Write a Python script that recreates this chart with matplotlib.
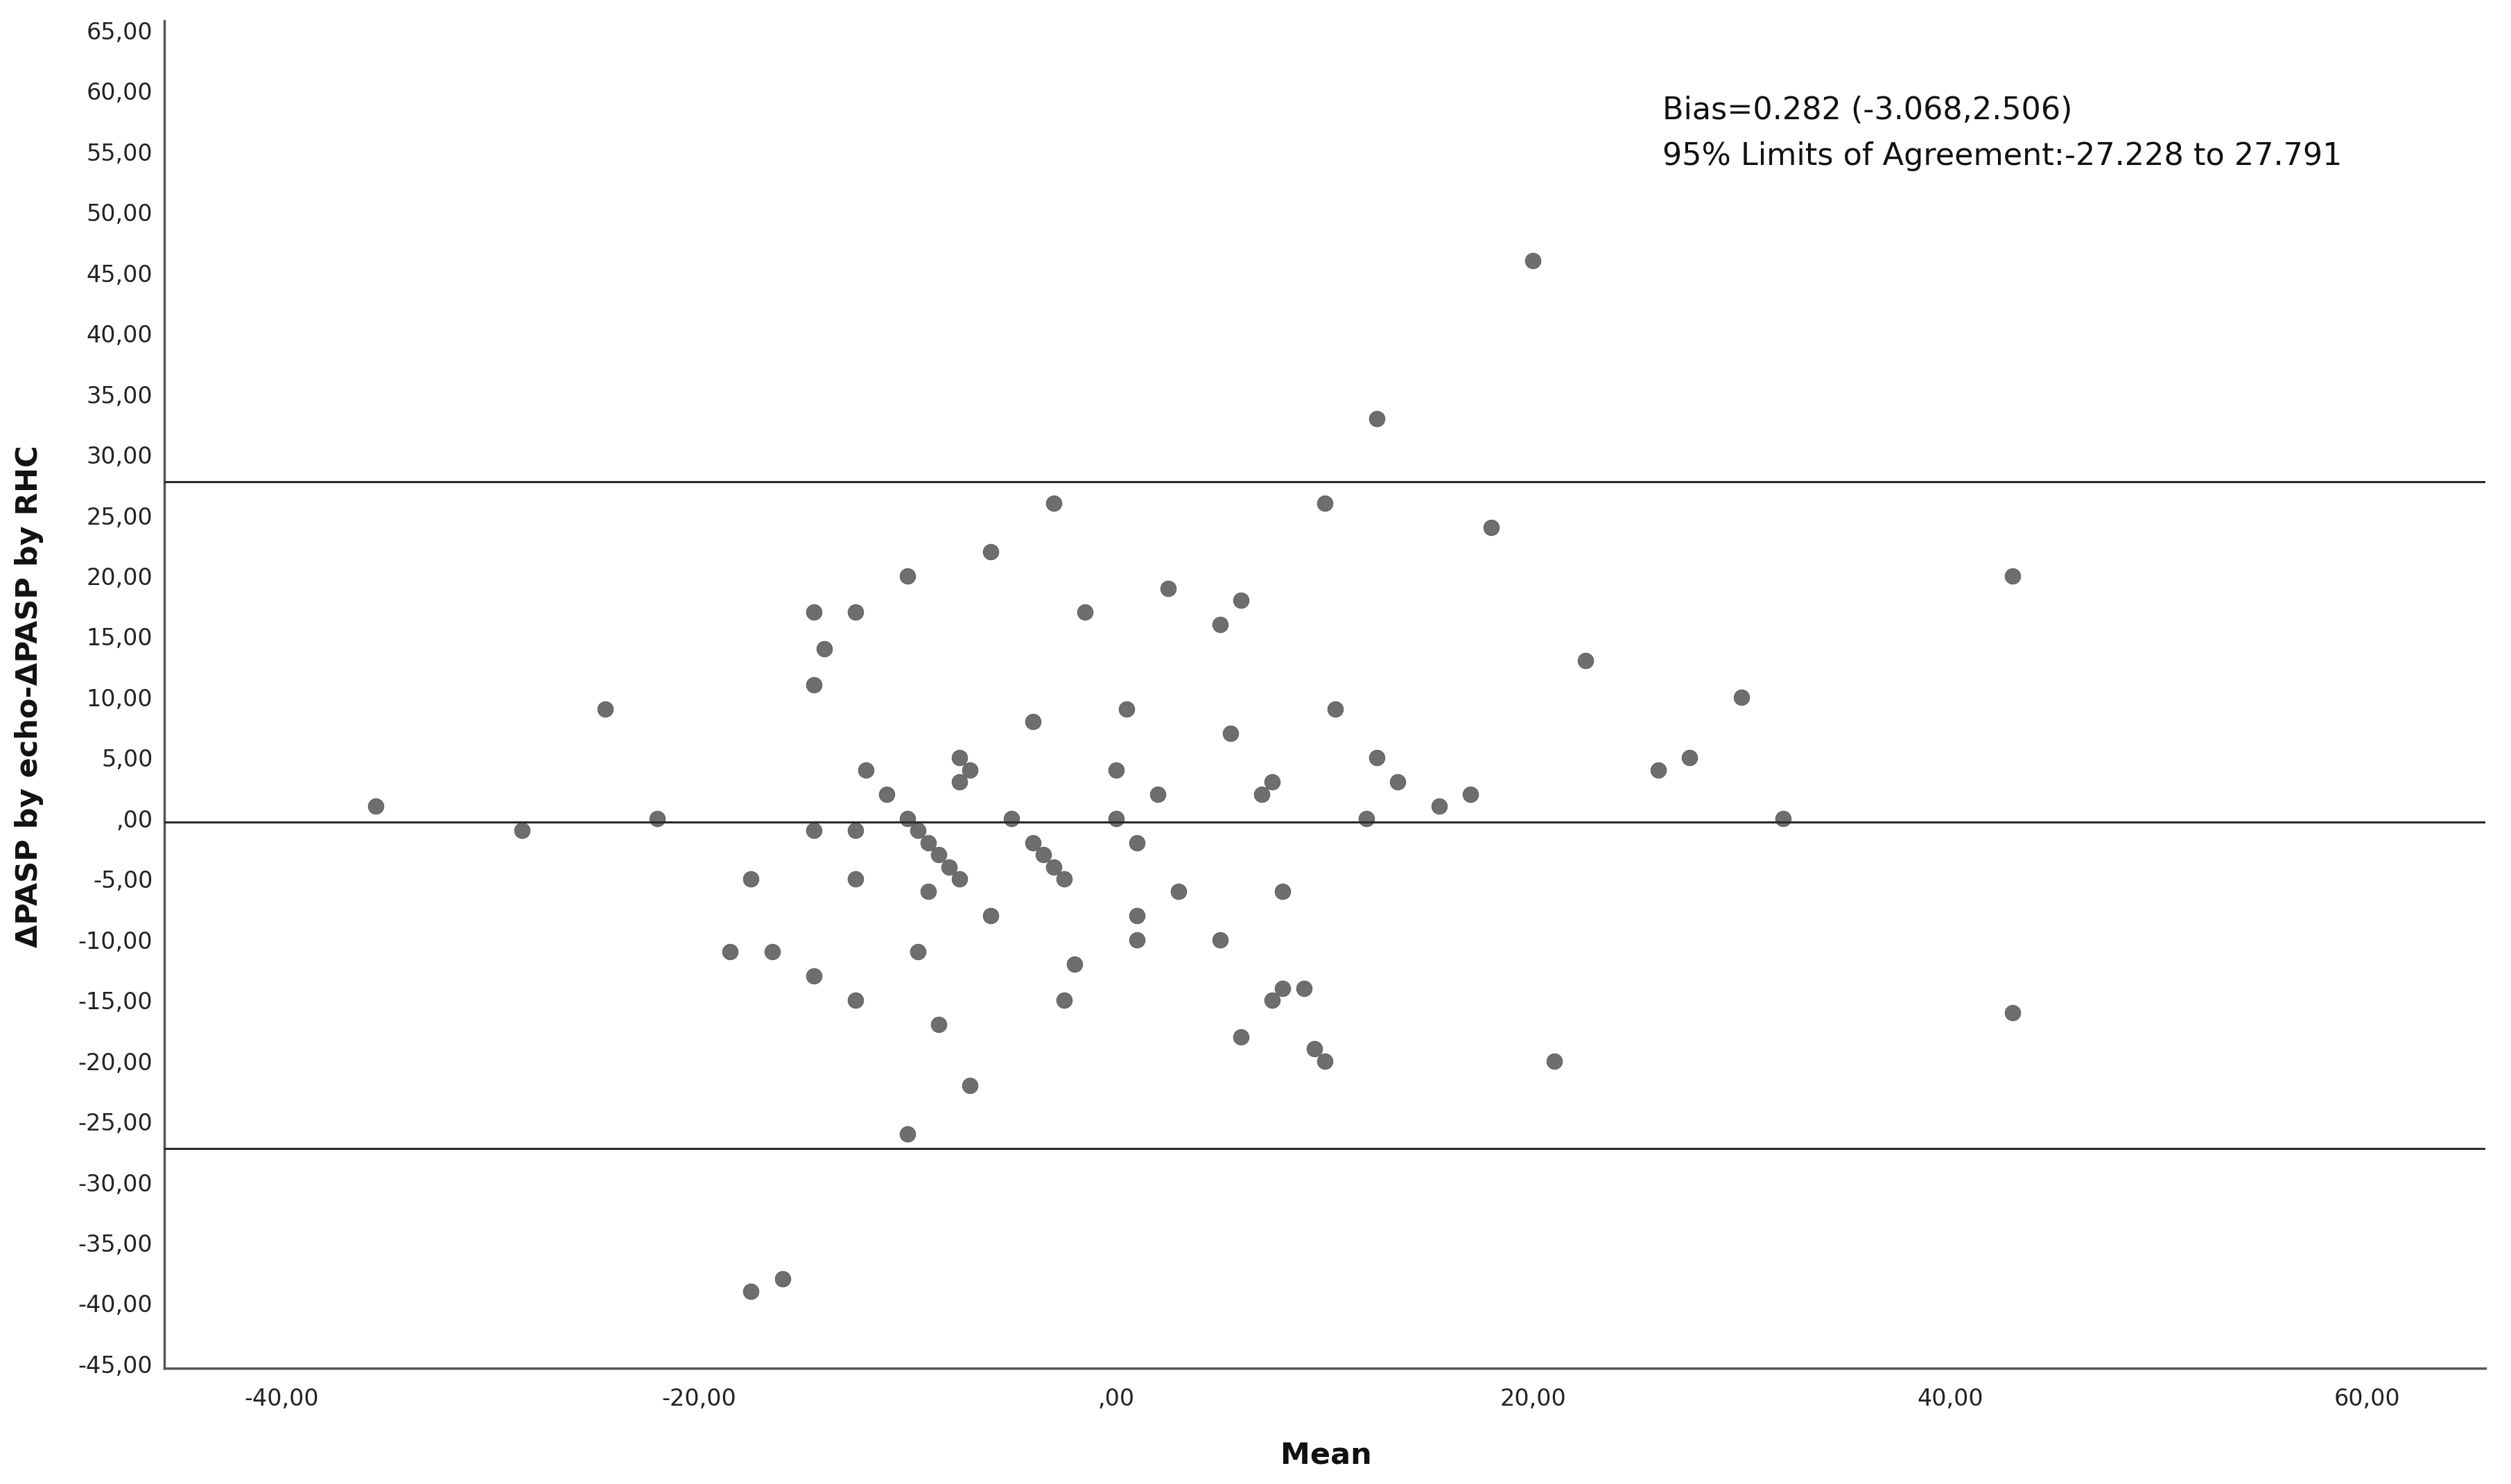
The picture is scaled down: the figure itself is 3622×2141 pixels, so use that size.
import numpy as np
import matplotlib.pyplot as plt
from matplotlib.ticker import FuncFormatter, MultipleLocator

# Bland-Altman: mean of the two methods vs difference (echo - RHC)
mean_vals = [-35.5, -28.5, -24.5, -22, -18.5, -17.5, -16.5, -17.5, -16,
             -14.5, -14.5, -14, -14.5, -14.5, -12.5, -12.5, -12.5, -12.5,
             -12, -11, -10, -10, -10, -9.5, -9.5, -9, -9, -8.5, -8.5,
             -8, -7.5, -7.5, -7.5, -7, -7, -6, -6, -5, -4, -4, -3.5, -3,
             -3, -2.5, -2.5, -2, -1.5,
             0, 0, 0.5, 1, 1, 1, 2, 2.5, 3, 5, 5, 5.5, 6, 6, 7, 7.5, 7.5,
             8, 8, 9, 9.5, 10, 10, 10.5, 12, 12.5, 12.5, 13.5, 15.5, 17,
             18, 20, 21, 22.5, 26, 27.5, 30, 32, 43, 43]
diff_vals = [1, -1, 9, 0, -11, -5, -11, -39, -38,
             17, 11, 14, -1, -13, 17, -1, -5, -15,
             4, 2, 20, 0, -26, -1, -11, -2, -6, -3, -17,
             -4, -5, 5, 3, 4, -22, 22, -8, 0, 8, -2, -3, -4,
             26, -5, -15, -12, 17,
             4, 0, 9, -2, -8, -10, 2, 19, -6, 16, -10, 7, 18, -18, 2, 3, -15,
             -6, -14, -14, -19, 26, -20, 9, 0, 33, 5, 3, 1, 2,
             24, 46, -20, 13, 4, 5, 10, 0, 20, -16]

bias_line = -0.282
loa_low = -27.228
loa_high = 27.791

fig = plt.figure(figsize=(36.23, 21.41), dpi=100)
ax = fig.add_axes([0.0654, 0.078, 0.9241, 0.908])

ax.scatter(mean_vals, diff_vals, s=260, color='#6e6e6e', edgecolors='#606060',
           linewidths=0.8, zorder=2)

for yv in [loa_high, bias_line, loa_low]:
    ax.axhline(yv, color='#2a2a2a', lw=2.2, zorder=3)

ax.set_xlim(-45.64, 65.66)
ax.set_ylim(-45.35, 65.8)

def comma_fmt(v, pos):
    s = '%.2f' % v
    if s in ('0.00', '-0.00'):
        return ',00'
    return s.replace('.', ',')

ax.xaxis.set_major_locator(MultipleLocator(20))
ax.yaxis.set_major_locator(MultipleLocator(5))
ax.xaxis.set_major_formatter(FuncFormatter(comma_fmt))
ax.yaxis.set_major_formatter(FuncFormatter(comma_fmt))
ax.tick_params(axis='both', length=0, labelsize=24, labelcolor='#222222')
ax.tick_params(axis='y', pad=12)
ax.tick_params(axis='x', pad=20)

for side in ['top', 'right']:
    ax.spines[side].set_visible(False)
for side in ['left', 'bottom']:
    ax.spines[side].set_color('#555555')
    ax.spines[side].set_linewidth(2.5)

ax.text(26.2, 58.4, 'Bias=0.282 (-3.068,2.506)', fontsize=32,
        ha='left', va='center', color='#111111')
ax.text(26.2, 54.6, '95% Limits of Agreement:-27.228 to 27.791', fontsize=32,
        ha='left', va='center', color='#111111')

fig.text(42 / 3623, 1 - 1005 / 2141, 'ΔPASP by echo-ΔPASP by RHC',
         rotation=90, ha='center', va='center', fontsize=31,
         fontweight='bold', color='#111111')
fig.text(1913 / 3623, 1 - 2100 / 2141, 'Mean', ha='center', va='center',
         fontsize=31, fontweight='bold', color='#111111')

fig.savefig('out.png', dpi=100, facecolor='white')
